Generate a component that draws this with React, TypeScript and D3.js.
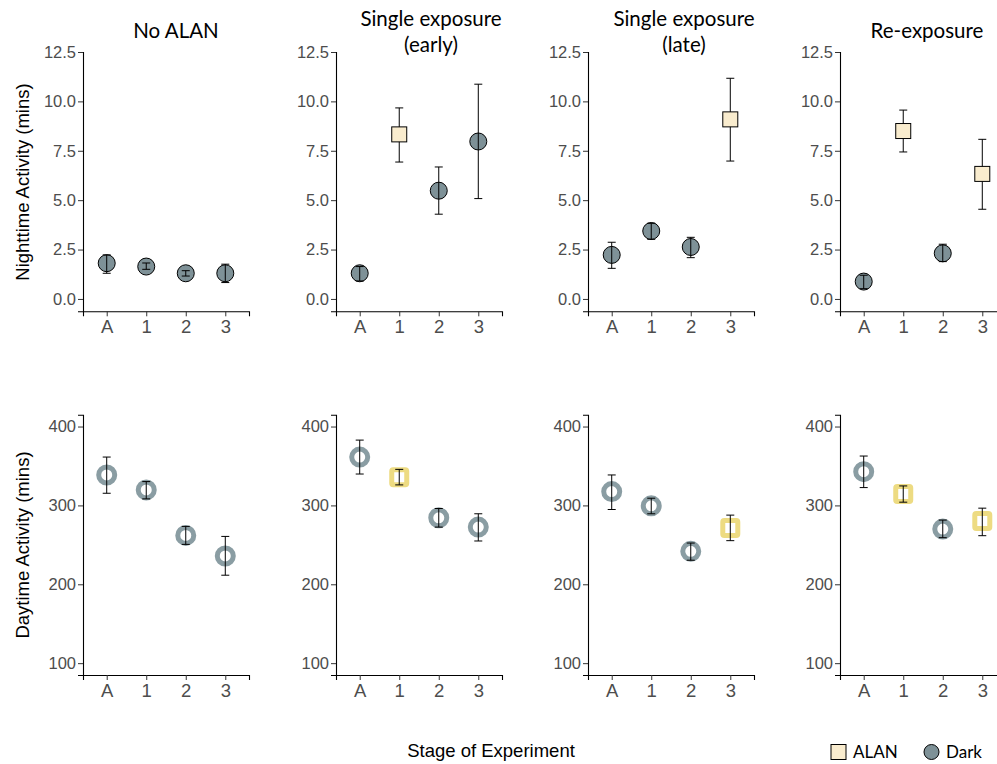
import React, { useEffect, useRef } from 'react';
import * as d3 from 'd3';

// stages on the x axis, and the four experiment groups
const stages = ["A", "1", "2", "3"];
const panelTitles = [["No ALAN"], ["Single exposure", "(early)"], ["Single exposure", "(late)"], ["Re-exposure"]];
const treatment = [
    ["Dark", "Dark", "Dark", "Dark"],
    ["Dark", "ALAN", "Dark", "Dark"],
    ["Dark", "Dark", "Dark", "ALAN"],
    ["Dark", "ALAN", "Dark", "ALAN"],
];

// Nighttime activity (mins): mean and error bar ends
const nightMean = [[1.81, 1.64, 1.30, 1.30], [1.30, 8.33, 5.48, 7.97], [2.23, 3.44, 2.63, 9.09], [0.88, 8.50, 2.31, 6.33]];
const nightLower = [[1.30, 1.50, 1.16, 0.83], [0.91, 6.93, 4.29, 5.08], [1.55, 3.02, 2.09, 6.98], [0.52, 7.44, 1.89, 4.54]];
const nightUpper = [[2.23, 1.82, 1.43, 1.76], [1.64, 9.67, 6.68, 10.87], [2.87, 3.83, 3.12, 11.17], [1.20, 9.56, 2.77, 8.08]];

// Daytime activity (mins)
const dayMean = [[338.6, 319.6, 262.0, 235.9], [361.3, 335.6, 284.3, 272.5], [317.5, 299.5, 241.8, 271.3], [342.8, 314.6, 270.0, 280.1]];
const dayLower = [[315.4, 308.3, 250.6, 211.5], [339.8, 326.0, 272.5, 254.9], [294.8, 289.4, 230.5, 255.3], [322.6, 304.1, 259.1, 261.6]];
const dayUpper = [[361.3, 330.2, 273.4, 260.7], [382.8, 345.7, 296.1, 289.4], [338.6, 309.1, 252.3, 287.7], [362.6, 324.7, 281.4, 296.5]];

const nightTicks = [0, 2.5, 5, 7.5, 10, 12.5];
const dayTicks = [100, 200, 300, 400];

const W = 997, H = 764;
const panelLeft = [83, 336, 588, 840];
const panelWidth = 166;
const titleX = [176, 431, 684, 927];

const DARK_FILL = "#7e9197";
const ALAN_FILL = "#f9ecce";
const DARK_RING = "#8a9da3";
const ALAN_RING = "#eddb82";
const SANS = '"Liberation Sans", Arial, Helvetica, sans-serif';
const TITLE_FONT = 'Lato, "Open Sans", sans-serif';

const App = () => {
    const svgRef = useRef<SVGSVGElement>(null);

    useEffect(() => {
        const svg = d3.select(svgRef.current);
        svg.selectAll("*").remove();

        const yNight = d3.scaleLinear().domain([-0.625, 12.5]).range([311.3, 52]);
        const yDay = d3.scaleLinear().domain([85, 415]).range([675, 414.7]);

        const rows = [
            { y: yNight, ticks: nightTicks, fmt: d3.format(".1f"), mean: nightMean, lo: nightLower, hi: nightUpper, top: true },
            { y: yDay, ticks: dayTicks, fmt: d3.format("d"), mean: dayMean, lo: dayLower, hi: dayUpper, top: false },
        ];

        panelLeft.forEach((left, p) => {
            const x = d3.scalePoint<string>().domain(stages).range([left, left + panelWidth]).padding(0.6);

            rows.forEach(row => {
                const g = svg.append("g");
                const base = row.y.range()[0];

                // axes
                const yAxis = g.append("g")
                    .attr("transform", `translate(${left},0)`)
                    .call(d3.axisLeft(row.y).tickValues(row.ticks).tickFormat(row.fmt as any).tickSizeOuter(0).tickSize(5).tickPadding(2));
                yAxis.attr("font-family", SANS).attr("font-size", 16.5);
                yAxis.select(".domain").attr("stroke", "#000").attr("stroke-width", 1.1);
                yAxis.selectAll(".tick line").attr("stroke", "#333");
                yAxis.selectAll(".tick text").attr("fill", "#4d4d4d");

                const xAxis = g.append("g")
                    .attr("transform", `translate(0,${base})`)
                    .call(d3.axisBottom(x).tickSizeOuter(0).tickSize(5).tickPadding(4));
                xAxis.attr("font-family", SANS).attr("font-size", 18.5);
                xAxis.select(".domain").attr("stroke", "#000").attr("stroke-width", 1.1);
                xAxis.selectAll(".tick line").attr("stroke", "#333");
                xAxis.selectAll(".tick text").attr("fill", "#4d4d4d");

                const pts = stages.map((s, i) => ({
                    s, t: treatment[p][i], m: row.mean[p][i], lo: row.lo[p][i], hi: row.hi[p][i],
                }));

                const drawBars = () => {
                    const eb = g.append("g").selectAll("g").data(pts).enter().append("g")
                        .attr("stroke", "#000").attr("stroke-width", 1);
                    eb.append("line").attr("x1", d => x(d.s)!).attr("x2", d => x(d.s)!)
                        .attr("y1", d => row.y(d.lo)).attr("y2", d => row.y(d.hi));
                    eb.append("line").attr("x1", d => x(d.s)! - 4).attr("x2", d => x(d.s)! + 4)
                        .attr("y1", d => row.y(d.lo)).attr("y2", d => row.y(d.lo));
                    eb.append("line").attr("x1", d => x(d.s)! - 4).attr("x2", d => x(d.s)! + 4)
                        .attr("y1", d => row.y(d.hi)).attr("y2", d => row.y(d.hi));
                };

                const dark = pts.filter(d => d.t === "Dark");
                const alan = pts.filter(d => d.t === "ALAN");

                if (row.top) {
                    g.append("g").selectAll("circle").data(dark).enter().append("circle")
                        .attr("cx", d => x(d.s)!).attr("cy", d => row.y(d.m)).attr("r", 8.5)
                        .attr("fill", DARK_FILL).attr("stroke", "#000").attr("stroke-width", 1);
                    drawBars();
                    g.append("g").selectAll("rect").data(alan).enter().append("rect")
                        .attr("x", d => x(d.s)! - 7.5).attr("y", d => row.y(d.m) - 7.5)
                        .attr("width", 15).attr("height", 15)
                        .attr("fill", ALAN_FILL).attr("stroke", "#000").attr("stroke-width", 1);
                } else {
                    g.append("g").selectAll("circle").data(dark).enter().append("circle")
                        .attr("cx", d => x(d.s)!).attr("cy", d => row.y(d.m)).attr("r", 8)
                        .attr("fill", "#fff").attr("stroke", DARK_RING).attr("stroke-width", 5);
                    g.append("g").selectAll("rect").data(alan).enter().append("rect")
                        .attr("x", d => x(d.s)! - 7.5).attr("y", d => row.y(d.m) - 7.5)
                        .attr("width", 15).attr("height", 15).attr("rx", 1.5)
                        .attr("fill", "#fff").attr("stroke", ALAN_RING).attr("stroke-width", 5);
                    drawBars();
                }
            });

            // panel titles
            const t = svg.append("text")
                .attr("x", titleX[p]).attr("y", panelTitles[p].length > 1 ? 26 : 38)
                .attr("text-anchor", "middle")
                .attr("font-family", TITLE_FONT).attr("font-size", 20.5).attr("fill", "#000");
            panelTitles[p].forEach((line, i) => {
                t.append("tspan").attr("x", titleX[p]).attr("dy", i === 0 ? 0 : 26).text(line);
            });
        });

        // axis titles
        svg.append("text").attr("transform", "translate(29,182) rotate(-90)").attr("text-anchor", "middle")
            .attr("font-family", SANS).attr("font-size", 18.5).text("Nighttime Activity (mins)");
        svg.append("text").attr("transform", "translate(29,545) rotate(-90)").attr("text-anchor", "middle")
            .attr("font-family", SANS).attr("font-size", 18.5).text("Daytime Activity (mins)");
        svg.append("text").attr("x", 491).attr("y", 757).attr("text-anchor", "middle")
            .attr("font-family", SANS).attr("font-size", 18.5).text("Stage of Experiment");

        // legend
        const leg = svg.append("g").attr("font-family", TITLE_FONT).attr("font-size", 17);
        leg.append("rect").attr("x", 831).attr("y", 744.5).attr("width", 15).attr("height", 15)
            .attr("fill", ALAN_FILL).attr("stroke", "#000").attr("stroke-width", 1);
        leg.append("text").attr("x", 853).attr("y", 758).text("ALAN");
        leg.append("circle").attr("cx", 931.5).attr("cy", 752).attr("r", 7.5)
            .attr("fill", DARK_FILL).attr("stroke", "#000").attr("stroke-width", 1);
        leg.append("text").attr("x", 946).attr("y", 758).text("Dark");
    }, []);

    return (
        <>
            <style>{"body{margin:0}"}</style>
            <svg ref={svgRef} width={W} height={H} style={{ display: "block", background: "#fff" }}></svg>
        </>
    );
};

export default App;
